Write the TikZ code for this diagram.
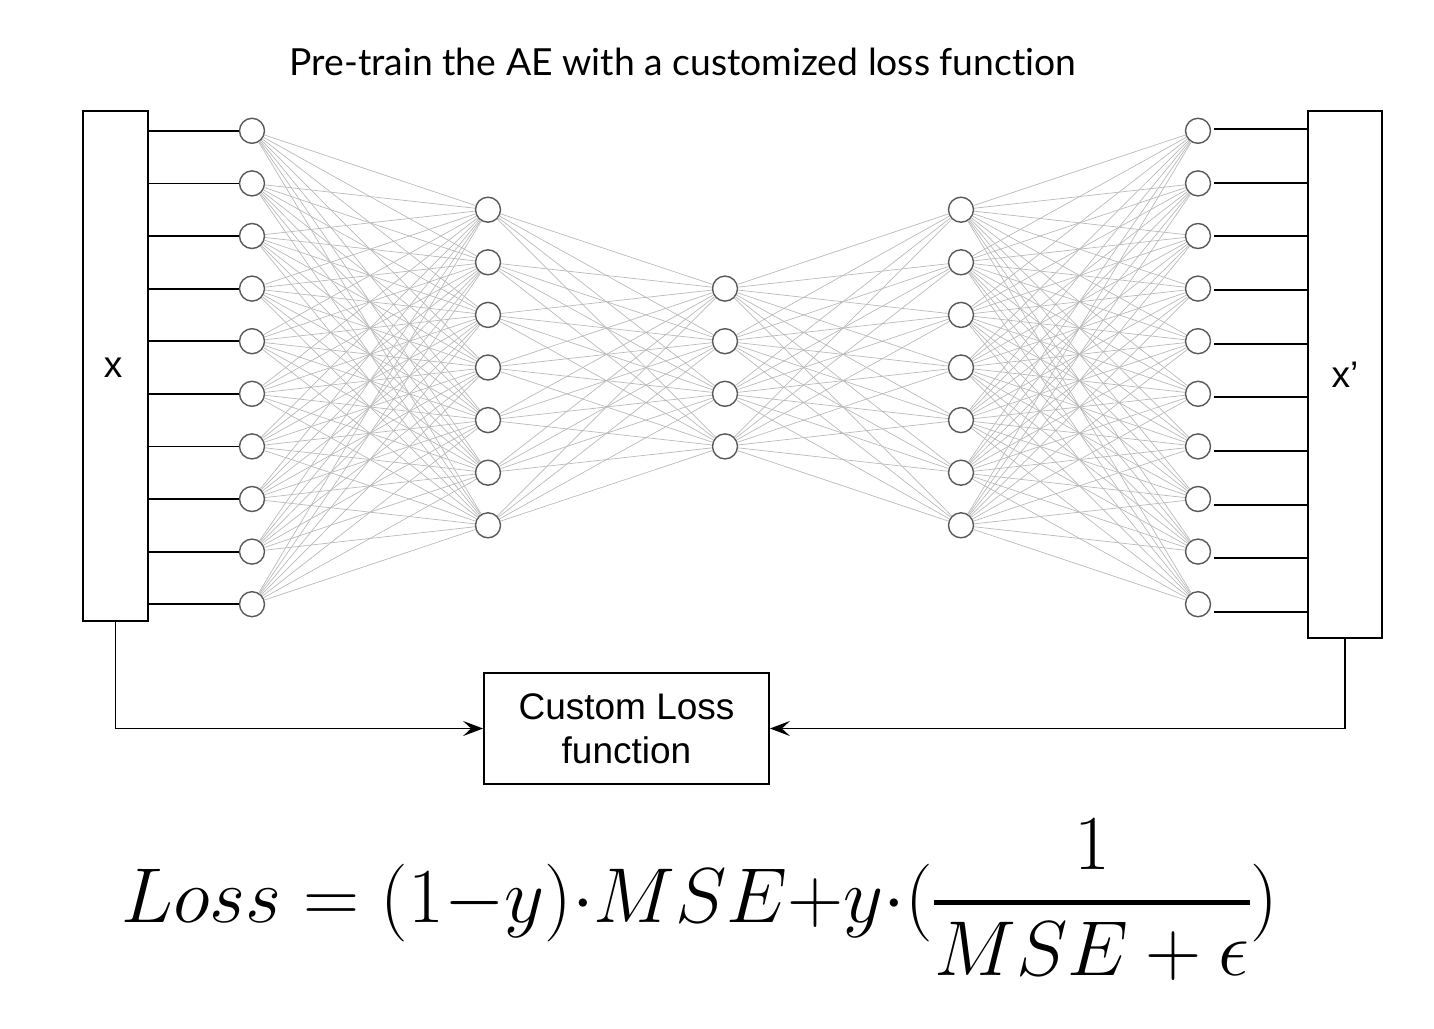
\RequirePackage{fix-cm}
\documentclass[tikz,border=0pt]{standalone}
\usepackage{amsmath}
\usepackage{fontspec}
\setmainfont{Liberation Sans}
\newfontfamily\latofont[Ligatures=NoCommon]{Lato}
\usetikzlibrary{positioning,arrows.meta}

\begin{document}
\begin{tikzpicture}[x=1pt,y=-1pt,
	neuron/.style={circle,draw=black!65,line width=1.4pt,fill=white,
		minimum size=25pt,inner sep=0pt},
	link/.style={black!27,line width=0.7pt},
	wire/.style={line width=1.8pt},
	vecbox/.style={draw,line width=1.8pt,inner sep=0pt,
		font=\fontsize{37}{44}\selectfont},
	feed/.style={line width=1.8pt,-{Stealth[length=20pt,width=15pt,inset=8pt]}}]
	\useasboundingbox (0,0) rectangle (1434,1028);
	\node[font=\latofont\fontsize{37.3}{44}\selectfont] (title) at (683,62)
		{Pre-train the AE with a customized loss function};
	% the five layers
	\foreach \l/\xx/\n in {a/252/10,b/488/7,c/725/4,d/961/7,e/1198/10}
		\foreach \i in {1,...,\n}
			\node[neuron] (\l\i) at (\xx,{367.5+(\i-(\n+1)/2)*52.6}) {};
	\foreach \p/\q/\m/\n in {a/b/10/7,b/c/7/4,c/d/4/7,d/e/7/10}
		\foreach \i in {1,...,\m}
			\foreach \j in {1,...,\n}
				\draw[link] (\p\i) -- (\q\j);
	% input and output
	\node[vecbox,minimum width=65pt,minimum height=510pt] (xin) at (115.5,366) {};
	\node (xlab) at (113,368) [font=\fontsize{37}{44}\selectfont] {x};
	\node[vecbox,minimum width=74pt,minimum height=527pt] (xout) at (1345,374.5) {x’};
	\foreach \i in {1,...,10} {
		\draw[wire] (a\i.west) -- (a\i.west -| xin.east);
		\coordinate (r\i) at (1214,{129+(\i-1)*53.67});
		\draw[wire] (r\i) -- (r\i -| xout.west);
	}
	\node[draw,line width=1.8pt,minimum width=285pt,minimum height=111pt,align=center,
		font=\fontsize{37}{44}\selectfont] (loss) at (626.5,728.5) {Custom Loss\\function};
	\draw[feed] (xin.south) |- (loss.west);
	\draw[feed] (xout.south) |- (loss.east);
	\node[anchor=base,font=\fontsize{77.8}{92}\selectfont] (eq) at (700,922)
		{$Loss = (1{-}y){\cdot}MSE{+}y{\cdot}(\genfrac{}{}{4.5pt}{0}{1}{MSE+\epsilon})$};
\end{tikzpicture}
\end{document}
